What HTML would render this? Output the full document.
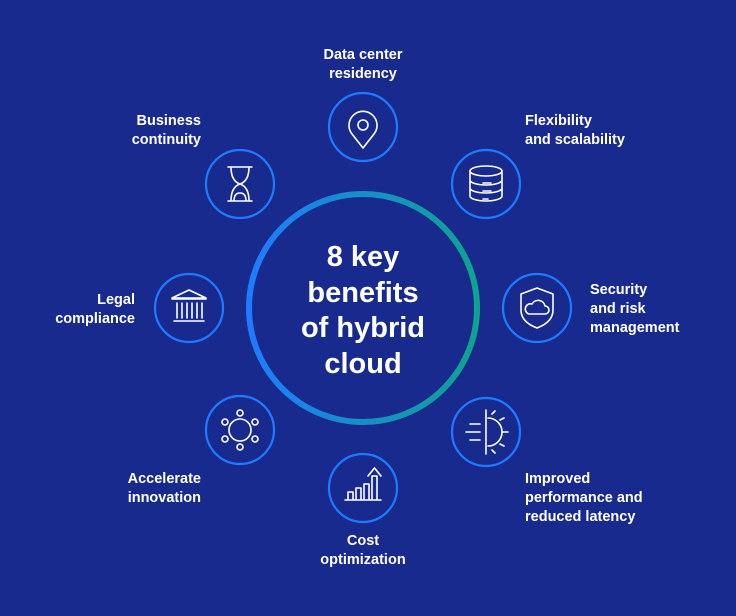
<!DOCTYPE html>
<html><head><meta charset="utf-8"><style>
html,body{margin:0;padding:0;}
body{width:736px;height:616px;background:#182a8e;overflow:hidden;position:relative;font-family:"Liberation Sans",Arial,sans-serif;}
.t{position:absolute;color:#fff;font-weight:bold;font-size:14.5px;line-height:19px;}
</style></head><body>
<svg width="736" height="616" style="position:absolute;left:0;top:0">
<defs><linearGradient id="g" x1="0" y1="0" x2="1" y2="0"><stop offset="0" stop-color="#1e7bff"/><stop offset="1" stop-color="#0ea38e"/></linearGradient></defs>
<circle cx="363" cy="308" r="114" fill="none" stroke="url(#g)" stroke-width="6"/>
<g fill="none" stroke="#1e7bff" stroke-width="2.2">
<circle cx="363" cy="127" r="34"/><circle cx="486" cy="184" r="34"/><circle cx="537" cy="308" r="34"/><circle cx="486" cy="432" r="34"/>
<circle cx="363" cy="488" r="34"/><circle cx="240" cy="430" r="34"/><circle cx="189" cy="308" r="34"/><circle cx="240" cy="184" r="34"/>
</g>
<g fill="none" stroke="#fff" stroke-width="1.6" stroke-linecap="round" stroke-linejoin="round">
<!-- pin -->
<path d="M363 148 L352 134 A14 14 0 1 1 374 134 Z"/><circle cx="363" cy="125" r="5"/>
<!-- db -->
<ellipse cx="486" cy="171" rx="16" ry="5"/><path d="M470 171 V196 A16 5 0 0 0 502 196 V171 M470 180 A16 5 0 0 0 502 180 M470 188 A16 5 0 0 0 502 188"/>
<path d="M483 183 h8 M483 191 h8 M483 199 h5"/>
<!-- shield -->
<path d="M537 288 L553 294 V310 Q553 322 537 328 Q521 322 521 310 V294 Z"/>
<path d="M529 314 h16 a4 4 0 0 0 0 -8 a7 7 0 0 0 -13 -2 a5 5 0 0 0 -3 10Z"/>
<!-- gear half -->
<path d="M486 410 V454 M488 418 a14 14 0 0 1 0 28 M492 414 l3 -3 M500 420 l4 -2 M503 432 h5 M500 444 l4 2 M492 450 l3 3"/>
<path d="M470 424 h10 M466 432 h14 M470 440 h10"/>
<!-- chart -->
<path d="M345 500 h36 M348 500 v-8 h5 v8 M356 500 v-12 h5 v12 M364 500 v-16 h5 v16 M372 500 v-24 h5 v24 M368 476 l6.5 -8 l6.5 8"/>
<!-- innovation -->
<circle cx="240" cy="430" r="11"/><circle cx="240" cy="413" r="3"/><circle cx="255" cy="422" r="3"/><circle cx="255" cy="439" r="3"/><circle cx="240" cy="447" r="3"/><circle cx="225" cy="439" r="3"/><circle cx="225" cy="422" r="3"/>
<!-- bank -->
<path d="M172 298 L189 290 L206 298 Z M172 299 h34 M174 321 h30 M177 303 v15 M182 303 v15 M187 303 v15 M192 303 v15 M197 303 v15 M202 303 v15"/>
<!-- hourglass -->
<path d="M228 167 h24 M228 201 h24 M231 167 q0 14 9 17 q9 -3 9 -17 M231 201 q0 -14 9 -17 q9 3 9 17 M234 201 q0 -8 6 -8 q6 0 6 8"/>
</g>
</svg>
<div style="position:absolute;left:263px;top:240px;width:200px;text-align:center;color:#fff;font-weight:bold;font-size:29px;line-height:35.5px">8 key<br>benefits<br>of hybrid<br>cloud</div>
<div class="t" style="left:300px;top:46px;width:126px;text-align:center">Data center<br>residency</div>
<div class="t" style="left:525px;top:112px">Flexibility<br>and scalability</div>
<div class="t" style="left:590px;top:281px">Security<br>and risk<br>management</div>
<div class="t" style="left:525px;top:470px">Improved<br>performance and<br>reduced latency</div>
<div class="t" style="left:300px;top:532px;width:126px;text-align:center">Cost<br>optimization</div>
<div class="t" style="left:100px;top:470px;width:101px;text-align:right">Accelerate<br>innovation</div>
<div class="t" style="left:40px;top:291px;width:95px;text-align:right">Legal<br>compliance</div>
<div class="t" style="left:80px;top:112px;width:121px;text-align:right">Business<br>continuity</div>
</body></html>
